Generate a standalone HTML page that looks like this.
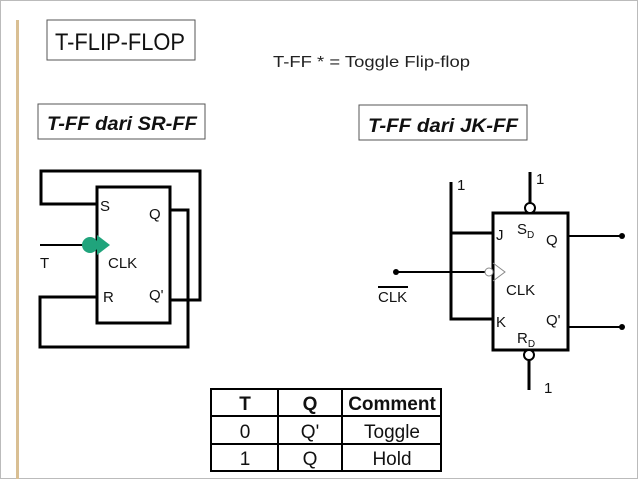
<!DOCTYPE html>
<html><head><style>
html,body{margin:0;padding:0;background:#fff}
svg{display:block;font-family:"Liberation Sans",sans-serif}
</style></head><body>
<svg width="638" height="479" viewBox="0 0 638 479" xmlns="http://www.w3.org/2000/svg">
<rect x="0.5" y="0.5" width="637" height="478" fill="#fff" stroke="#bbb"/>
<rect x="16" y="20" width="3" height="459" fill="#d9bf93"/>
<!-- title -->
<rect x="47" y="20" width="148" height="40" fill="none" stroke="#555" stroke-width="1"/>
<text x="55" y="50" font-size="24" textLength="130" lengthAdjust="spacingAndGlyphs" fill="#111">T-FLIP-FLOP</text>
<text x="273" y="67" font-size="16" textLength="197" lengthAdjust="spacingAndGlyphs" fill="#222">T-FF * = Toggle Flip-flop</text>
<rect x="38" y="104" width="167" height="35" fill="none" stroke="#555"/>
<text x="47" y="130" font-size="19" font-style="italic" font-weight="bold" textLength="150" lengthAdjust="spacingAndGlyphs" fill="#111">T-FF dari SR-FF</text>
<rect x="359" y="105" width="168" height="35" fill="none" stroke="#555"/>
<text x="368" y="132" font-size="19" font-style="italic" font-weight="bold" textLength="150" lengthAdjust="spacingAndGlyphs" fill="#111">T-FF dari JK-FF</text>
<!-- SR diagram -->
<g fill="none" stroke="#000" stroke-width="3">
<rect x="97" y="187" width="73" height="136"/>
<polyline points="97,204 41,204 41,171 200,171 200,300 170,300"/>
<polyline points="170,210 188,210 188,347 40,347 40,297 97,297"/>
</g>
<line x1="40" y1="245" x2="86" y2="245" stroke="#000" stroke-width="2"/>
<polygon points="97,235 110,245 97,255" fill="#20a47c"/>
<circle cx="90" cy="245" r="8" fill="#20a47c"/>
<g font-size="15" fill="#111">
<text x="100" y="211">S</text><text x="149" y="219">Q</text>
<text x="40" y="268">T</text><text x="108" y="268">CLK</text>
<text x="103" y="302">R</text><text x="149" y="300">Q'</text>
</g>
<!-- JK diagram -->
<g fill="none" stroke="#000" stroke-width="3">
<rect x="493" y="213" width="75" height="137"/>
<polyline points="451,182 451,319 493,319"/>
<line x1="451" y1="233" x2="493" y2="233"/>
<line x1="530" y1="172" x2="530" y2="203"/>
<line x1="529" y1="360" x2="529" y2="390"/>
</g>
<ellipse cx="530" cy="208" rx="5" ry="5" fill="#fff" stroke="#000" stroke-width="2"/>
<ellipse cx="529" cy="355" rx="5" ry="5" fill="#fff" stroke="#000" stroke-width="2"/>
<g stroke="#000" stroke-width="2">
<line x1="396" y1="272" x2="485" y2="272"/>
<line x1="568" y1="236" x2="622" y2="236"/>
<line x1="568" y1="327" x2="622" y2="327"/>
</g>
<circle cx="396" cy="272" r="3" fill="#000"/>
<circle cx="622" cy="236" r="3" fill="#000"/>
<circle cx="622" cy="327" r="3" fill="#000"/>
<circle cx="489" cy="272" r="4" fill="#fff" stroke="#888" stroke-width="1"/>
<polyline points="493,263 505,272 493,281" fill="none" stroke="#888" stroke-width="1"/>
<line x1="378" y1="287" x2="408" y2="287" stroke="#000" stroke-width="2"/>
<g font-size="15" fill="#111">
<text x="457" y="190">1</text><text x="536" y="184">1</text><text x="544" y="393">1</text>
<text x="378" y="302">CLK</text>
<text x="496" y="240">J</text>
<text x="517" y="234">S<tspan font-size="10" dy="4">D</tspan></text>
<text x="546" y="245">Q</text>
<text x="506" y="295">CLK</text>
<text x="496" y="327">K</text>
<text x="546" y="325">Q'</text>
<text x="517" y="343">R<tspan font-size="10" dy="4">D</tspan></text>
</g>
<!-- table -->
<g fill="none" stroke="#000" stroke-width="2">
<rect x="211" y="389" width="230" height="82"/>
<line x1="211" y1="416" x2="441" y2="416"/>
<line x1="211" y1="444" x2="441" y2="444"/>
<line x1="278" y1="389" x2="278" y2="471"/>
<line x1="342" y1="389" x2="342" y2="471"/>
</g>
<g font-size="19" fill="#111" text-anchor="middle">
<text x="245" y="410" font-weight="bold">T</text>
<text x="310" y="410" font-weight="bold">Q</text>
<text x="392" y="410" font-weight="bold">Comment</text>
<text x="245" y="438">0</text><text x="310" y="438">Q'</text><text x="392" y="438">Toggle</text>
<text x="245" y="465">1</text><text x="310" y="465">Q</text><text x="392" y="465">Hold</text>
</g>
</svg>
</body></html>
